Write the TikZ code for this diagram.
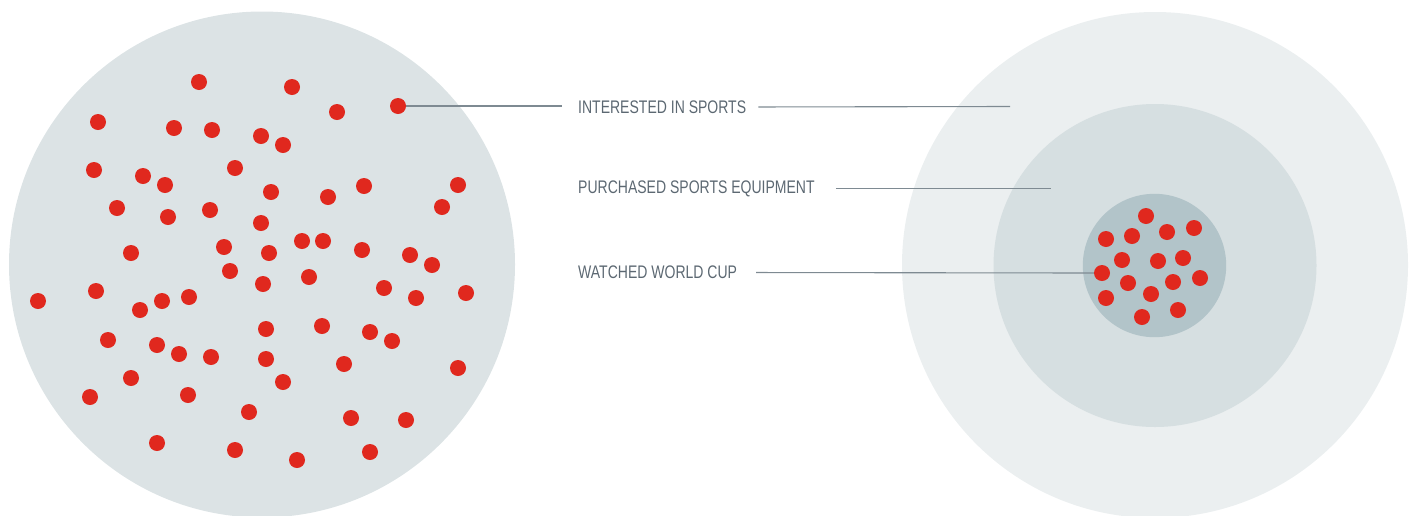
\documentclass[tikz,border=0pt]{standalone}
\usepackage{fontspec}
\setmainfont{Liberation Sans}[FakeStretch=0.77]
\usepackage{tikz}
\usetikzlibrary{positioning}
\definecolor{poolgrey}{HTML}{DCE3E5}
\definecolor{outergrey}{HTML}{EBEFF0}
\definecolor{midgrey}{HTML}{D6DFE1}
\definecolor{innergrey}{HTML}{B2C4C9}
\definecolor{dotred}{HTML}{E0281E}
\definecolor{leadgrey}{HTML}{7E8A92}
\definecolor{labelgrey}{HTML}{5C6872}

\begin{document}
\begin{tikzpicture}[x=1pt,y=-1pt]
    \tikzstyle{dot} = [circle, fill=dotred, inner sep=0pt, minimum size=16pt]
    \tikzstyle{label} = [inner ysep=0pt, inner xsep=0pt, text=labelgrey, font=\fontsize{18.2}{20}\selectfont]
    \tikzstyle{lead} = [draw=leadgrey, line width=1.1pt]

    \useasboundingbox (0,0) rectangle (1413,515);

    \fill[poolgrey] (262,264.5) circle (253);
    \fill[outergrey] (1155,265) circle (253);
    \fill[midgrey] (1155,265.5) circle (161.5);
    \fill[innergrey] (1154.5,265.5) circle (71.7);

    \foreach \x/\y [count=\i] in {199/82,292/87,337/112,98/122,174/128,212/130,261/136,283/145,
        94/170,143/176,165/185,235/168,271/192,328/197,364/186,458/185,442/207,117/208,168/217,
        210/210,261/223,131/253,224/247,269/253,302/241,323/241,362/250,410/255,432/265,230/271,
        309/277,263/284,38/301,96/291,140/310,162/301,189/297,384/288,416/298,466/293,108/340,
        157/345,179/354,211/357,266/329,322/326,370/332,392/341,266/359,344/364,131/378,283/382,
        458/368,90/397,188/395,249/412,351/418,406/420,157/443,235/450,297/460,370/452}
        \node[dot] (p\i) at (\x,\y) {};

    \foreach \x/\y [count=\i] in {1146/216,1106/239,1132/236,1167/232,1194/228,1122/260,1158/261,
        1183/258,1128/283,1173/282,1200/278,1106/298,1151/294,1178/310,1142/317}
        \node[dot] (w\i) at (\x,\y) {};

    \node[dot] (sportsfan) at (398,106) {};
    \node[dot] (cupfan) at (1102,273) {};

    \node (interested) [label, anchor=west] at (578,107) {INTERESTED IN SPORTS};
    \node (purchased) [label, anchor=west] at (578,188.5) {PURCHASED SPORTS EQUIPMENT};
    \node (watched) [label, anchor=west] at (578,272.5) {WATCHED WORLD CUP};

    \coordinate (ringone) at (1010,106.5);
    \coordinate (ringtwo) at (1051,188.5);

    \draw [lead, shorten >=16pt] (sportsfan.east) -- (sportsfan.east -| interested.west);
    \draw [lead, shorten <=12pt] (interested.east) -- (ringone);
    \draw [lead, shorten <=21pt] (purchased.east) -- (ringtwo);
    \draw [lead, shorten <=19pt] (watched.east) -- (cupfan.west);
\end{tikzpicture}
\end{document}
